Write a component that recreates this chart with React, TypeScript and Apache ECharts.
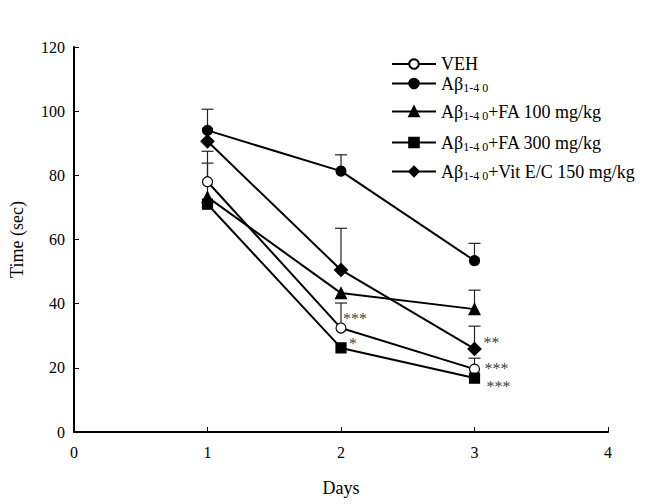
import React, { useEffect, useRef } from "react";
import * as echarts from "echarts";

const days = [1, 2, 3];
const seriesNames = [
  "VEH",
  "Aβ1-40",
  "Aβ1-40+FA 100 mg/kg",
  "Aβ1-40+FA 300 mg/kg",
  "Aβ1-40+Vit E/C 150 mg/kg",
];
const vehValues = [78, 32.4, 19.6];
const abValues = [94, 81.3, 53.4];
const fa100Values = [73.2, 43.3, 38.3];
const fa300Values = [71, 26.2, 16.8];
const vitValues = [90.6, 50.5, 25.9];

// upward error (SEM)
const vehErr = [5.8, 7.8, 3.4];
const abErr = [6.6, 5.1, 5.4];
const fa100Err = [14.3, null, 5.9];
const fa300Err = [null, null, null];
const vitErr = [null, 13, 7.1];

const yTicks = [0, 20, 40, 60, 80, 100, 120];
const xTicks = [0, 1, 2, 3, 4];

// significance marks: [day, value of the marked point, text]
const annotations: [number, number, string][] = [
  [2, 32.4, "***"],
  [2, 26.2, "*"],
  [3, 25.9, "**"],
  [3, 19.6, "***"],
  [3, 16.8, "***"],
];
const annotationOffsets = [
  [2, -10],
  [8, -4],
  [9, -6],
  [10, -1],
  [12, 8],
];

const FONT = "Liberation Serif";
const legendTops = [50, 68, 96, 127, 156];

export default function App() {
  const ref = useRef<HTMLDivElement>(null);
  useEffect(() => {
    const chart = echarts.init(ref.current!, null, { renderer: "svg" });
    const valueSets = [vehValues, abValues, fa100Values, fa300Values, vitValues];
    const errSets = [vehErr, abErr, fa100Err, fa300Err, vitErr];
    const symbols = ["circle", "circle", "triangle", "rect", "diamond"];
    const fills = ["#fff", "#000", "#000", "#000", "#000"];
    const sizes = [10, 10, 11, 10, 13];

    const lineSeries = valueSets.map((vals, i) => ({
      type: "line",
      name: seriesNames[i],
      data: days.map((d, j) => [d, vals[j]]),
      symbol: symbols[i],
      symbolSize: sizes[i],
      z: 3,
      lineStyle: { color: "#000", width: 2 },
      itemStyle: { color: fills[i], borderColor: "#000", borderWidth: 1.2, opacity: 1 },
      emphasis: { disabled: true },
    }));

    const errData: number[][] = [];
    valueSets.forEach((vals, i) => {
      days.forEach((d, j) => {
        const e = errSets[i][j];
        if (e != null) errData.push([d, vals[j], vals[j] + e]);
      });
    });

    const errorSeries = {
      type: "custom",
      name: "err",
      z: 1,
      data: errData,
      encode: { x: 0, y: [1, 2] },
      renderItem: (params: any, api: any) => {
        const p0 = api.coord([api.value(0), api.value(1)]);
        const p1 = api.coord([api.value(0), api.value(2)]);
        const st = { stroke: "#222", lineWidth: 1.2 };
        return {
          type: "group",
          children: [
            { type: "line", shape: { x1: p0[0], y1: p0[1], x2: p1[0], y2: p1[1] }, style: st },
            { type: "line", shape: { x1: p1[0] - 6, y1: p1[1], x2: p1[0] + 6, y2: p1[1] }, style: st },
          ],
        };
      },
    };

    const annSeries = {
      type: "scatter",
      name: "ann",
      z: 5,
      symbolSize: 1,
      itemStyle: { color: "rgba(0,0,0,0)" },
      silent: true,
      data: annotations.map((a, i) => ({
        value: [a[0], a[1]],
        label: {
          show: true,
          formatter: a[2],
          position: "inside",
          align: "left",
          verticalAlign: "middle",
          offset: annotationOffsets[i],
          fontFamily: FONT,
          fontSize: 16,
          lineHeight: 12,
          color: "#000",
          textBorderWidth: 0,
        },
      })),
    };

    const richFormatter = (name: string) => {
      if (name.startsWith("Aβ1-40")) {
        const rest = name.slice("Aβ1-40".length);
        return "{n|Aβ}{s|1-4 0}" + (rest ? "{n|" + rest + "}" : "");
      }
      return "{n|" + name + "}";
    };

    const legends = seriesNames.map((nm, i) => ({
      data: [nm],
      orient: "vertical",
      left: 386,
      top: legendTops[i],
      itemWidth: 44,
      itemHeight: 12,
      formatter: richFormatter,
      selectedMode: false,
      textStyle: {
        fontFamily: FONT,
        fontSize: 18,
        color: "#000",
        rich: {
          n: { fontFamily: FONT, fontSize: 18, color: "#000", lineHeight: 18 },
          s: { fontFamily: FONT, fontSize: 12, color: "#000", lineHeight: 18, padding: [9, 0, 0, 0] },
        },
      },
    }));

    chart.setOption({
      animation: false,
      grid: { left: 74, right: 45, top: 47, bottom: 72 },
      legend: legends,
      xAxis: {
        type: "value",
        min: 0,
        max: 4,
        interval: 1,
        name: "Days",
        nameLocation: "middle",
        nameGap: 47,
        nameTextStyle: { fontFamily: FONT, fontSize: 18, color: "#000" },
        axisLine: { lineStyle: { color: "#000", width: 2 } },
        axisTick: { inside: true, length: 5, lineStyle: { color: "#000" } },
        axisLabel: {
          fontFamily: FONT,
          fontSize: 16,
          color: "#000",
          margin: 12,
          formatter: (v: number) => (xTicks.includes(v) ? String(v) : ""),
        },
        splitLine: { show: false },
      },
      yAxis: {
        type: "value",
        min: 0,
        max: 120,
        interval: 20,
        name: "Time (sec)",
        nameLocation: "middle",
        nameGap: 48,
        nameTextStyle: { fontFamily: FONT, fontSize: 18, color: "#000" },
        axisLine: { show: true, lineStyle: { color: "#000", width: 2 } },
        axisTick: { show: true, inside: true, length: 5, lineStyle: { color: "#000" } },
        axisLabel: {
          fontFamily: FONT,
          fontSize: 16,
          color: "#000",
          margin: 9,
          formatter: (v: number) => (yTicks.includes(v) ? String(v) : ""),
        },
        splitLine: { show: false },
      },
      series: [errorSeries, ...lineSeries, annSeries],
    });
    return () => chart.dispose();
  }, []);
  return (
    <div
      ref={ref}
      style={{ position: "fixed", left: 0, top: 0, width: 653, height: 504, background: "#fff" }}
    />
  );
}
